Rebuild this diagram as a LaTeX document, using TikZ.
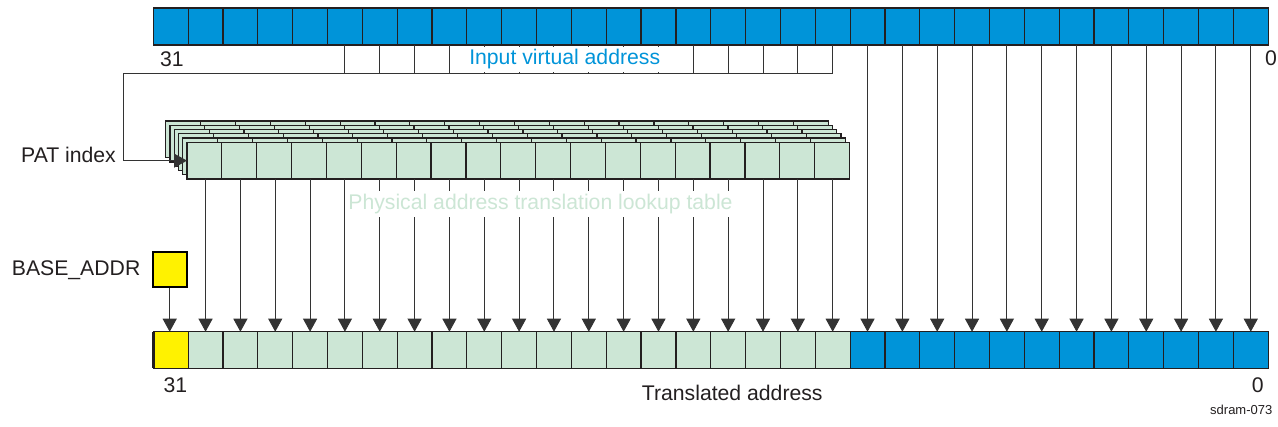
\documentclass[tikz,border=0pt]{standalone}
\usepackage{fontspec}
\setmainfont{Liberation Sans}
\usetikzlibrary{arrows.meta}
\definecolor{tiblue}{HTML}{0094D9}
\definecolor{tigreen}{HTML}{CCE6D5}
\definecolor{tiyellow}{HTML}{FFF200}
\definecolor{ink}{HTML}{231F20}
\definecolor{wire}{HTML}{333333}
\begin{document}
\begin{tikzpicture}[x=1pt,y=-1pt,
  cell/.style={draw=ink,line width=1.2pt,inner sep=0pt,outer sep=0pt,minimum width=34.84pt,minimum height=37pt},
  bcell/.style={cell,minimum height=36.5pt},
  pcell/.style={cell,fill=tigreen,minimum width=34.87pt,minimum height=36.7pt},
  wireline/.style={draw=wire,line width=1pt},
  arr/.style={wireline,-{Triangle[width=14pt,length=13pt]}},
  lbl/.style={inner sep=0pt,font=\fontsize{21.2}{25}\selectfont,text=ink},
]
\useasboundingbox (0,0) rectangle (1278,427);

% input virtual address register
\foreach \i in {0,...,31}
  \node[cell,fill=tiblue] (t\i) at ({153.3+34.84*(\i+0.5)},26.5) {};

% translated address register
\node[bcell,fill=tiyellow] (b0) at ({153.3+34.84*0.5},350) {};
\foreach \i in {1,...,19}
  \node[bcell,fill=tigreen] (b\i) at ({153.3+34.84*(\i+0.5)},350) {};
\foreach \i in {20,...,31}
  \node[bcell,fill=tiblue] (b\i) at ({153.3+34.84*(\i+0.5)},350) {};
\draw[ink,line width=2.4pt] (b0.north west) -- (b0.south west);

% stacked lookup table
\foreach \k in {5,4,3,2,1}
  \foreach \i in {1,...,19}
    \node[pcell] (s\k-\i) at ({187+34.87*(\i-0.5)-4.25*\k},{160.65-4.25*\k}) {};
\foreach \i in {1,...,19}
  \node[pcell] (p\i) at ({187+34.87*(\i-0.5)},160.65) {};

% base address box
\node[draw=black,line width=2pt,fill=tiyellow,inner sep=0pt,minimum width=34pt,minimum height=35.6pt] (base) at (169.7,269.5) {};

% PAT index wiring
\coordinate (hl) at (123,74);
\draw[wireline] (t19.south) |- (hl);
\foreach \i in {5,...,18}
  \draw[wireline] (t\i.south) -- (t\i.south |- hl);
\draw[arr] (hl) |- (p1.west);

% direct bits
\foreach \i in {20,...,31}
  \draw[arr] (t\i.south) -- (b\i.north);

% table outputs
\foreach \i in {1,...,19}
  \draw[arr] (b\i.north |- p\i.south) -- (b\i.north);

% base addr
\draw[arr] (base.south) -- (base.south |- b0.north);

% labels
\node[lbl,anchor=base west] (n31t) at (160,66.7) {31};
\node[lbl,anchor=base west] (n0t) at (1265,65.7) {0};
\node[lbl,anchor=base,text=tiblue,fill=white,inner xsep=2pt,inner ysep=2.5pt] (iva) at (564.7,65) {Input virtual address};
\node[lbl,anchor=base west] (pat) at (21,163) {PAT index};
\node[lbl,anchor=base,text=tigreen,fill=white,inner xsep=1pt,inner ysep=3pt] (pal) at (540.5,209.3) {Physical address translation lookup table};
\node[lbl,anchor=base west] (bal) at (11.7,275.7) {BASE\_ADDR};
\node[lbl,anchor=base west] (n31b) at (163.3,392.3) {31};
\node[lbl,anchor=base west] (n0b) at (1251.7,392.7) {0};
\node[lbl,anchor=base west] (tal) at (641.7,400.7) {Translated address};
\node[lbl,anchor=base west,font=\fontsize{13}{15}\selectfont] (fig) at (1210,415) {sdram-073};
\end{tikzpicture}
\end{document}
